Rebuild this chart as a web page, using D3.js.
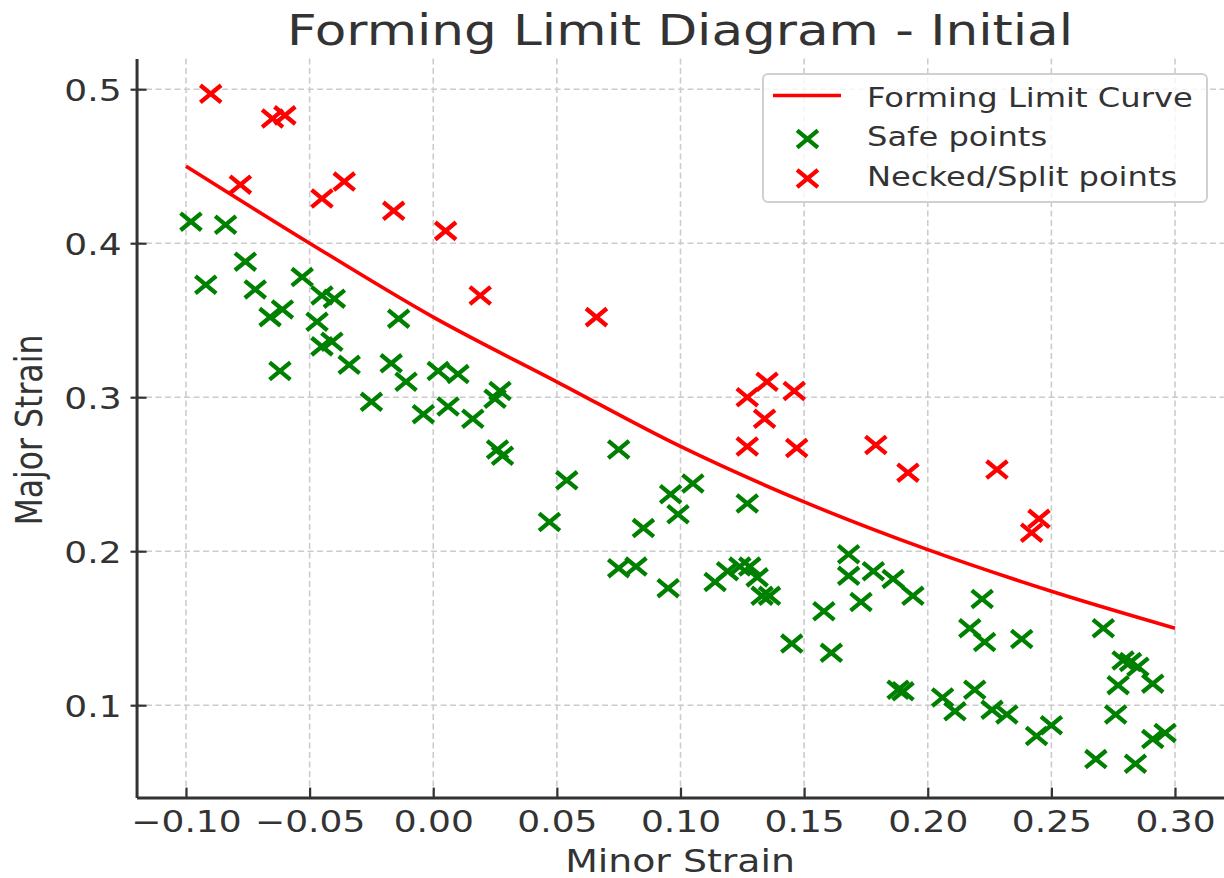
<!DOCTYPE html>
<html>
<head>
<meta charset="utf-8">
<script src="https://cdn.jsdelivr.net/npm/d3@7"></script>
<style>
  html, body { margin: 0; padding: 0; background: #fff; }
  svg { display: block; font-family: "DejaVu Sans", sans-serif; }
</style>
</head>
<body>
<svg id="chart" width="1224" height="878"></svg>
<script>
// ---- data ----
const curveX = [-0.10, -0.05, 0.00, 0.05, 0.10, 0.15, 0.20, 0.25, 0.30];
const curveY = [0.450, 0.400, 0.352, 0.310, 0.268, 0.232, 0.201, 0.174, 0.150];

const safeX = [-0.098,-0.084,-0.076,-0.092,-0.072,-0.053,-0.061,-0.066,-0.045,-0.040,
               -0.047,-0.041,-0.045,-0.014,-0.062,-0.034,-0.017,-0.011,-0.025,-0.004,
                0.002, 0.010, 0.006, 0.016, 0.027, 0.025, 0.026, 0.028, 0.075, 0.054,
                0.047, 0.096, 0.105, 0.099, 0.085, 0.075, 0.082, 0.095, 0.127, 0.114,
                0.119, 0.124, 0.128, 0.131, 0.133, 0.136, 0.145, 0.158, 0.161, 0.168,
                0.168, 0.173, 0.178, 0.186, 0.194, 0.188, 0.190, 0.206, 0.211, 0.219,
                0.222, 0.217, 0.223, 0.238, 0.271, 0.279, 0.282, 0.285, 0.277, 0.291,
                0.276, 0.226, 0.232, 0.244, 0.250, 0.268, 0.284, 0.291, 0.296];
const safeY = [0.414, 0.412, 0.388, 0.373, 0.370, 0.378, 0.357, 0.352, 0.366, 0.364,
               0.349, 0.336, 0.333, 0.351, 0.317, 0.321, 0.322, 0.310, 0.297, 0.289,
               0.317, 0.315, 0.294, 0.286, 0.304, 0.299, 0.266, 0.262, 0.266, 0.246,
               0.219, 0.237, 0.244, 0.224, 0.215, 0.189, 0.190, 0.176, 0.231, 0.180,
               0.187, 0.190, 0.190, 0.183, 0.171, 0.171, 0.140, 0.161, 0.134, 0.198,
               0.184, 0.167, 0.187, 0.182, 0.171, 0.110, 0.109, 0.105, 0.096, 0.110,
               0.169, 0.150, 0.141, 0.143, 0.150, 0.129, 0.128, 0.125, 0.113, 0.114,
               0.094, 0.097, 0.094, 0.080, 0.087, 0.065, 0.062, 0.078, 0.082];

const neckX = [-0.090,-0.065,-0.060,-0.078,-0.045,-0.036,-0.016, 0.005, 0.019, 0.066,
                0.135, 0.127, 0.146, 0.134, 0.127, 0.147, 0.179, 0.192, 0.228, 0.245, 0.242];
const neckY = [0.497, 0.481, 0.483, 0.438, 0.429, 0.440, 0.421, 0.408, 0.366, 0.352,
               0.310, 0.300, 0.304, 0.286, 0.268, 0.267, 0.269, 0.251, 0.253, 0.221, 0.212];

const xTicks = [-0.10, -0.05, 0.00, 0.05, 0.10, 0.15, 0.20, 0.25, 0.30];
const yTicks = [0.1, 0.2, 0.3, 0.4, 0.5];
const titleText = "Forming Limit Diagram - Initial";
const xLabel = "Minor Strain";
const yLabel = "Major Strain";
const legendLabels = ["Forming Limit Curve", "Safe points", "Necked/Split points"];

// ---- layout ----
const svg = d3.select("#chart");
const SX = 1.2; // horizontal text stretch of the reference
const textColor = "#333333";
const plotL = 136.55, plotR = 1224.45, plotT = 58.4, plotB = 797.6;

const x = d3.scaleLinear().domain([-0.12, 0.32]).range([plotL, plotR]);
const y = d3.scaleLinear().domain([0.04, 0.52]).range([plotB, plotT]);

// grid
const grid = svg.append("g");
grid.selectAll("line.vx").data(xTicks).join("line")
  .attr("x1", d => x(d)).attr("x2", d => x(d)).attr("y1", plotT).attr("y2", plotB)
  .attr("stroke", "#cccccc").attr("stroke-width", 1.6).attr("stroke-dasharray", "6,3.5");
grid.selectAll("line.hy").data(yTicks).join("line")
  .attr("y1", d => y(d)).attr("y2", d => y(d)).attr("x1", plotL).attr("x2", plotR)
  .attr("stroke", "#cccccc").attr("stroke-width", 1.6).attr("stroke-dasharray", "6,3.5");

// axes
const xAxis = svg.append("g").attr("transform", `translate(0,${plotB})`)
  .call(d3.axisBottom(x).tickValues(xTicks).tickFormat(d3.format(".2f")).tickSizeInner(-10).tickSizeOuter(0).tickPadding(0));
xAxis.select(".domain").attr("stroke", textColor).attr("stroke-width", 3);
xAxis.selectAll(".tick line").attr("stroke", textColor).attr("stroke-width", 2.2);
xAxis.selectAll(".tick text")
  .attr("y", 34).attr("dy", 0)
  .attr("transform", `scale(${SX},1)`)
  .attr("fill", textColor).style("font-size", "30px").style("font-family", "DejaVu Sans");

const yAxis = svg.append("g").attr("transform", `translate(${plotL},0)`)
  .call(d3.axisLeft(y).tickValues(yTicks).tickFormat(d3.format(".1f")).tickSizeInner(6).tickSizeOuter(0).tickPadding(0));
yAxis.select(".domain").attr("stroke", textColor).attr("stroke-width", 3);
yAxis.selectAll(".tick line").attr("x1", -6).attr("x2", 10).attr("stroke", textColor).attr("stroke-width", 2.2);
yAxis.selectAll(".tick text")
  .attr("x", -15 / SX).attr("dy", "0.36em")
  .attr("transform", `scale(${SX},1)`)
  .attr("fill", textColor).style("font-size", "30px").style("font-family", "DejaVu Sans");

// curve
const curvePts = curveX.map((v, i) => [v, curveY[i]]);
svg.append("path").datum(curvePts)
  .attr("fill", "none").attr("stroke", "#ff0000").attr("stroke-width", 3.6)
  .attr("d", d3.line().x(d => x(d[0])).y(d => y(d[1])).curve(d3.curveMonotoneX));

// markers
const hx = 10.4, hy = 8.6;
const xMark = `M${-hx},${-hy}L${hx},${hy}M${-hx},${hy}L${hx},${-hy}`;
function drawPoints(xs, ys, color) {
  svg.append("g").selectAll("path").data(xs.map((v, i) => [v, ys[i]])).join("path")
    .attr("transform", d => `translate(${x(d[0])},${y(d[1])})`)
    .attr("d", xMark).attr("fill", "none").attr("stroke", color).attr("stroke-width", 4.3);
}
drawPoints(safeX, safeY, "#008000");
drawPoints(neckX, neckY, "#ff0000");

// title
svg.append("text").attr("transform", `translate(680,45) scale(${SX},1)`)
  .attr("text-anchor", "middle").attr("fill", textColor)
  .style("font-size", "43px").text(titleText);

// axis labels
svg.append("text").attr("transform", `translate(680,872) scale(${SX},1)`)
  .attr("text-anchor", "middle").attr("fill", textColor)
  .style("font-size", "31.5px").text(xLabel);
svg.append("text").attr("transform", `translate(42,430) scale(${SX},1) rotate(-90)`)
  .attr("text-anchor", "middle").attr("fill", textColor)
  .style("font-size", "31.5px").text(yLabel);

// legend
const lg = svg.append("g");
lg.append("rect").attr("x", 763).attr("y", 74).attr("width", 444).attr("height", 128)
  .attr("rx", 5).attr("fill", "#ffffff").attr("fill-opacity", 0.8)
  .attr("stroke", "#d0d0d0").attr("stroke-width", 2);
lg.append("line").attr("x1", 773).attr("x2", 841).attr("y1", 95.5).attr("y2", 95.5)
  .attr("stroke", "#ff0000").attr("stroke-width", 3.6);
lg.append("path").attr("transform", "translate(807.5,139)").attr("d", xMark)
  .attr("fill", "none").attr("stroke", "#008000").attr("stroke-width", 4.3);
lg.append("path").attr("transform", "translate(807.5,178.5)").attr("d", xMark)
  .attr("fill", "none").attr("stroke", "#ff0000").attr("stroke-width", 4.3);
const legendBase = [106.5, 146, 185.5];
legendLabels.forEach((t, i) => {
  lg.append("text").attr("transform", `translate(867,${legendBase[i]}) scale(${SX},1)`)
    .attr("fill", textColor).style("font-size", "26.8px").text(t);
});
</script>
</body>
</html>
